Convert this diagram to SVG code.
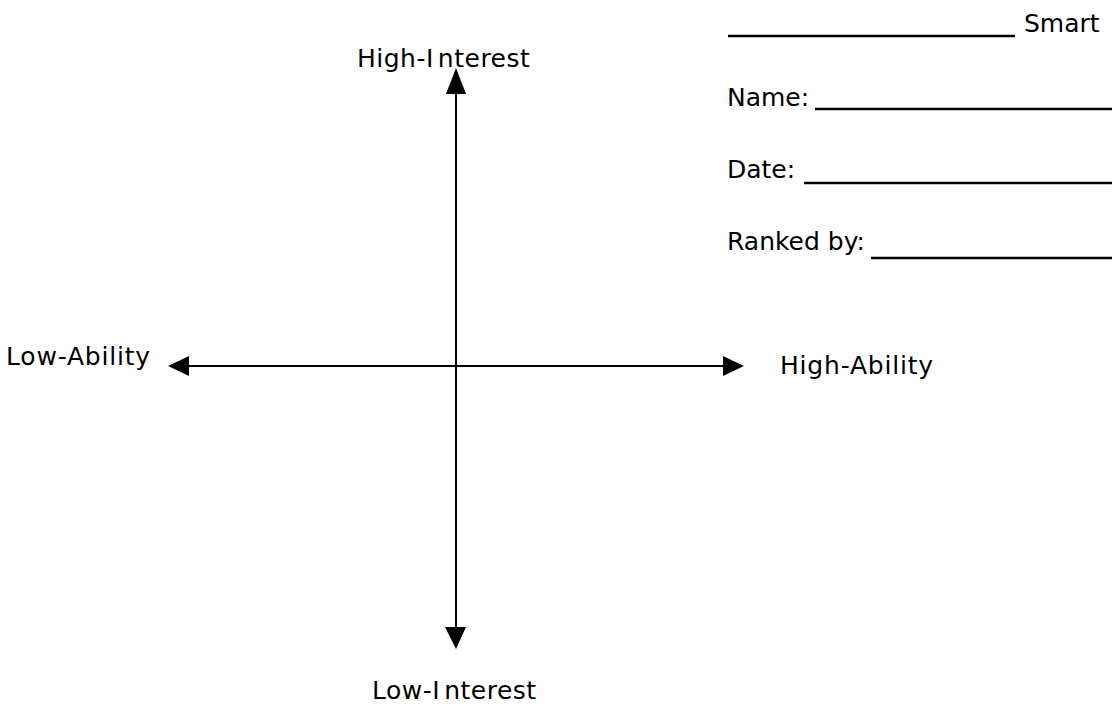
<svg xmlns="http://www.w3.org/2000/svg" width="1112" height="704" viewBox="0 0 1112 704">
  <style>
    .lbl { font-family: "DejaVu Sans", Verdana, sans-serif; font-size: 25px; fill: #000; }
    .ax { letter-spacing: 0.8px; }
    .axis { stroke: #000; stroke-width: 2; fill: none; }
    .blank { stroke: #000; stroke-width: 2.5; }
    .head { fill: #000; }
  </style>
  <rect width="1112" height="704" fill="#fff"/>

  <!-- axes -->
  <g id="connectors">
    <line class="axis" x1="456" y1="90" x2="456" y2="630"/>
    <line class="axis" x1="185" y1="366" x2="726" y2="366"/>
    <polygon class="head" points="456,68 446,94 466,94"/>
    <polygon class="head" points="456,649 445,627 466,627"/>
    <polygon class="head" points="168,366 189,356 189,376"/>
    <polygon class="head" points="744,366 723,356 723,376"/>
  </g>

  <g id="high-interest"><text class="lbl ax" x="357" y="67" style="letter-spacing:0.5px">High-I<tspan dx="4">nterest</tspan></text></g>
  <g id="low-interest"><text class="lbl ax" x="372" y="699" style="letter-spacing:0.5px">Low-I<tspan dx="4">nterest</tspan></text></g>
  <g id="low-ability"><text class="lbl ax" x="6" y="365">Low-Ability</text></g>
  <g id="high-ability"><text class="lbl ax" x="780" y="374">High-Ability</text></g>

  <!-- header form -->
  <g id="form">
    <line class="blank" x1="728" y1="36" x2="1015" y2="36"/>
    <text class="lbl" x="1024" y="32">Smart</text>
    <text class="lbl" x="727" y="106">Name:</text>
    <line class="blank" x1="815" y1="109" x2="1112" y2="109"/>
    <text class="lbl" x="727" y="178">Date:</text>
    <line class="blank" x1="804" y1="183" x2="1112" y2="183"/>
    <text class="lbl" x="727" y="250">Ranked by:</text>
    <line class="blank" x1="871" y1="258" x2="1112" y2="258"/>
  </g>
</svg>
